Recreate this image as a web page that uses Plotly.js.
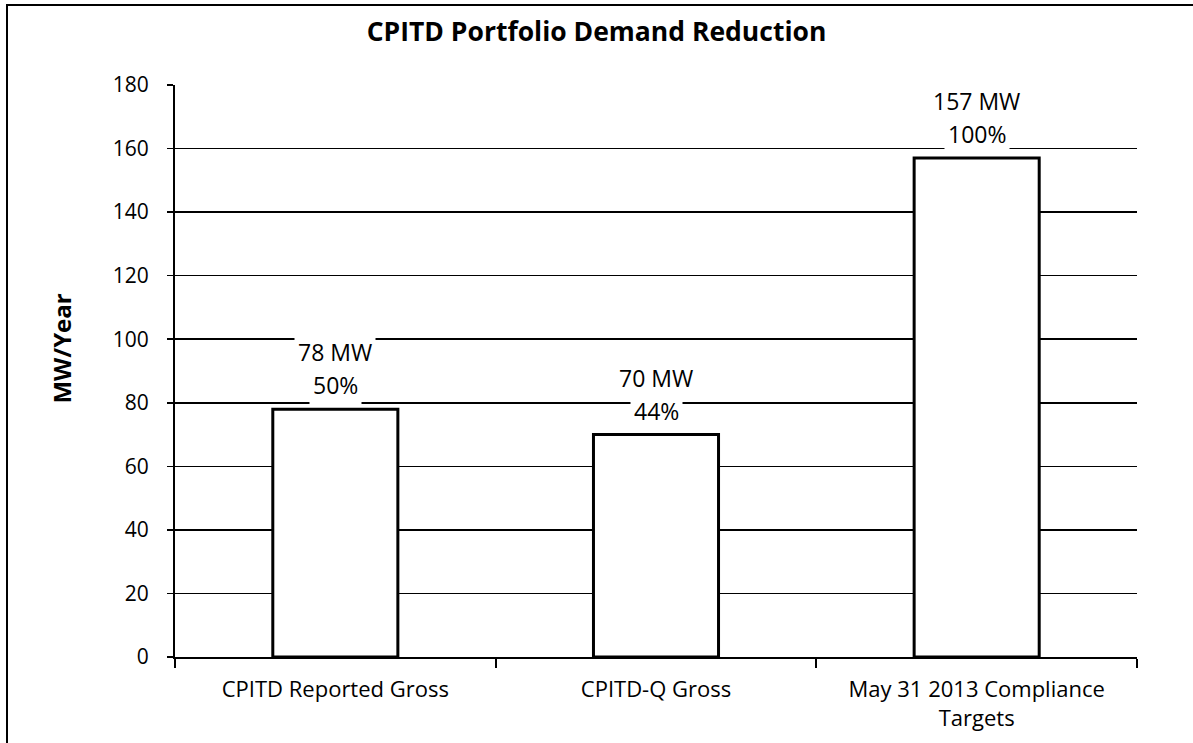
<!DOCTYPE html>
<html><head><meta charset="utf-8">
<script src="https://cdn.plot.ly/plotly-3.0.1.min.js"></script>
<style>
body{margin:0;background:#fff;}
#frame{position:absolute;left:6px;top:4px;width:1200px;height:760px;border-left:2px solid #000;border-top:2px solid #000;}
#chart{position:absolute;left:0;top:0;width:1193px;height:743px;}
</style>
</head><body>
<div id="frame"></div>
<div id="chart"></div>
<script>
const categories = ["CPITD Reported Gross", "CPITD-Q Gross", "May 31 2013 Compliance<br>Targets"];
const values = [78, 70, 157];
const mwLabels = ["78 MW", "70 MW", "157 MW"];
const pctLabels = ["50%", "44%", "100%"];
const yTicks = [0, 20, 40, 60, 80, 100, 120, 140, 160, 180];

const font = "Open Sans, Noto Sans, sans-serif";
const trace = {
  type: 'bar', x: categories, y: values,
  marker: {color: '#ffffff', line: {color: '#000', width: 3}},
  width: 0.39, hoverinfo: 'none'
};
const annotations = [];
categories.forEach((c, i) => {
  annotations.push({x: c, y: values[i], xref: 'x', yref: 'y', yanchor: 'middle', yshift: 57,
    text: mwLabels[i], showarrow: false, bgcolor: '#fff', borderpad: 3,
    font: {family: font, size: 23, color: '#000'}});
  annotations.push({x: c, y: values[i], xref: 'x', yref: 'y', yanchor: 'middle', yshift: 24,
    text: pctLabels[i], showarrow: false, bgcolor: '#fff', borderpad: 3,
    font: {family: font, size: 23, color: '#000'}});
});
annotations.push({x: -0.118, y: 0.54, xref: 'paper', yref: 'paper', xanchor: 'center', yanchor: 'middle',
  text: '<b>MW/Year</b>', textangle: -90, showarrow: false, font: {family: font, size: 24, color: '#000'}});

const layout = {
  width: 1193, height: 743,
  margin: {l: 175, r: 56, t: 85, b: 86},
  paper_bgcolor: 'rgba(0,0,0,0)', plot_bgcolor: 'rgba(0,0,0,0)',
  title: {text: '<b>CPITD Portfolio Demand Reduction</b>', x: 0.5, xanchor: 'center', y: 0.957, yanchor: 'middle', font: {family: font, size: 26.5, color: '#000'}},
  showlegend: false,
  xaxis: {type: 'category', showline: true, linecolor: '#000', linewidth: 2, ticks: 'outside', tickson: 'boundaries', ticklen: 9, tickcolor: '#000', tickwidth: 2, showgrid: false, ticklabelstandoff: 12, tickfont: {family: font, size: 22, color: '#000'}},
  yaxis: {range: [0, 180], tickvals: yTicks, showline: true, linecolor: '#000', linewidth: 2, ticks: 'outside', ticklen: 6, tickcolor: '#000', tickwidth: 1.5, showgrid: true, gridcolor: '#000', gridwidth: 1.6, zeroline: false, ticklabelstandoff: 14, tickfont: {family: font, size: 21, color: '#000'}},
  annotations: annotations
};
Plotly.newPlot('chart', [trace], layout, {displayModeBar: false, staticPlot: true});
</script>
</body></html>
